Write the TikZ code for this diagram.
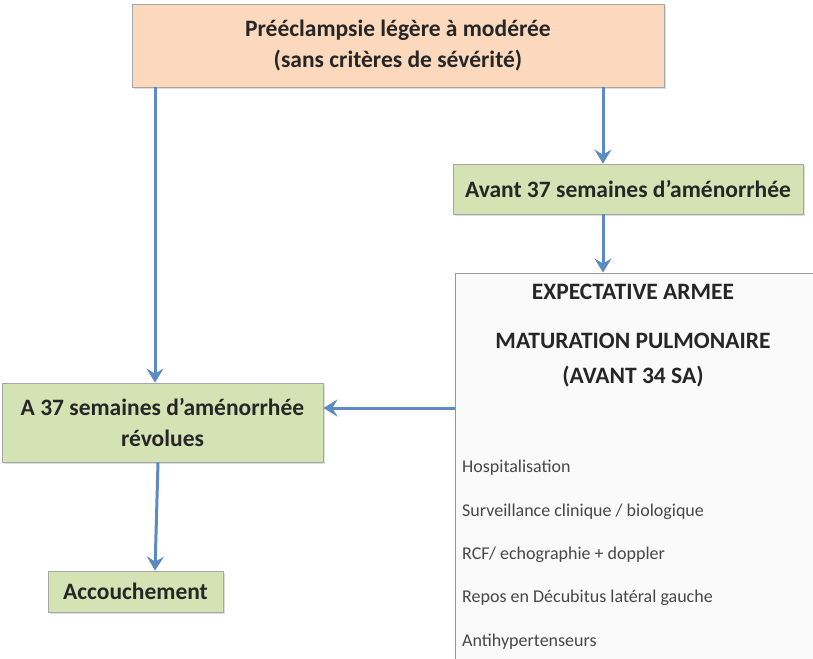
\documentclass[tikz,border=0pt]{standalone}
\usepackage{fontspec}
\setmainfont{Carlito}
\usetikzlibrary{arrows.meta,shadows}
\definecolor{peach}{HTML}{FCD9BD}
\definecolor{sage}{HTML}{D4E2B4}
\definecolor{arrowblue}{HTML}{5B8BC2}
\definecolor{boxgray}{HTML}{FAFAFA}
\definecolor{txt}{HTML}{262626}
\tikzset{
  box/.style={draw=gray!70, line width=0.8pt, text=txt, align=center, inner sep=0pt,
    drop shadow={shadow xshift=2pt, shadow yshift=-2pt, fill=gray!45, opacity=0.6}},
  hd/.style={font=\fontsize{23.5}{31}\selectfont\bfseries},
  arr/.style={draw=arrowblue, line width=3pt, -{Stealth[length=14pt,width=17pt,inset=5pt]}},
  item/.style={anchor=west, text=txt!85, font=\fontsize{18}{20}\selectfont, inner sep=0pt},
  big/.style={font=\fontsize{23.5}{35}\selectfont\bfseries, text=txt, align=center}
}
\begin{document}
\begin{tikzpicture}[x=1pt,y=-1pt]
\path[use as bounding box] (0,0) rectangle (813,658);
\clip (0,0) rectangle (813,658);
\node[box, fill=peach, minimum width=532pt, minimum height=83pt, hd] (top) at (398,45.5)
  {Prééclampsie légère à modérée\\(sans critères de sévérité)};
\node[box, fill=sage, minimum width=350pt, minimum height=50pt, hd] (avant) at (628,189)
  {Avant 37 semaines d’aménorrhée};
\node[box, fill=boxgray, draw=gray!80, line width=1pt, minimum width=368pt, minimum height=392pt] (bigbox) at (639,469) {};
\node[box, fill=sage, minimum width=321pt, minimum height=79pt, hd] (a37) at (162.5,422.5)
  {A 37 semaines d’aménorrhée\\révolues};
\node[box, fill=sage, minimum width=175pt, minimum height=41pt, hd] (acc) at (135.5,591.5)
  {Accouchement};
\node[big] (exp) at (633,292) {EXPECTATIVE ARMEE};
\node[big] (mat) at (633,360) {MATURATION PULMONAIRE\\(AVANT 34 SA)};
\node[item] (i1) at (462,468) {Hospitalisation};
\node[item] (i2) at (462,512) {Surveillance clinique / biologique};
\node[item] (i3) at (462,555) {RCF/ echographie + doppler};
\node[item] (i4) at (462,598) {Repos en Décubitus latéral gauche};
\node[item] (i5) at (462,642) {Antihypertenseurs};
\draw[arr] (top.south -| 155,0) -- (a37.north -| 155,0);
\draw[arr] (top.south -| 603,0) -- (avant.north -| 603,0);
\draw[arr] (avant.south -| 603,0) -- (bigbox.north -| 603,0);
\draw[arr] (bigbox.west |- 0,408) -- (a37.east |- 0,408);
\draw[arr] (a37.south -| 158,0) -- (acc.north -| 155,0);
\end{tikzpicture}
\end{document}
